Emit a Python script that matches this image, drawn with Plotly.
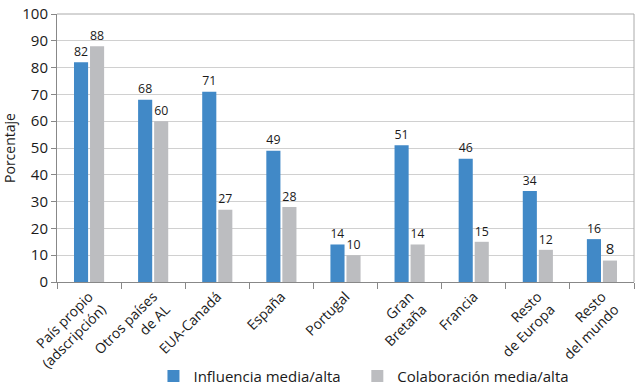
import plotly.graph_objects as go

categories = ["País propio<br>(adscripción)", "Otros países<br>de AL", "EUA-Canadá", "España",
              "Portugal", "Gran<br>Bretaña", "Francia", "Resto<br>de Europa", "Resto<br>del mundo"]
influencia = [82, 68, 71, 49, 14, 51, 46, 34, 16]
colaboracion = [88, 60, 27, 28, 10, 14, 15, 12, 8]
y_ticks = [0, 10, 20, 30, 40, 50, 60, 70, 80, 90, 100]

font = "Open Sans, Lato, sans-serif"

fig = go.Figure()
fig.add_trace(go.Bar(x=categories, y=influencia, name="Influencia media/alta\u00a0\u00a0\u00a0",
                     marker=dict(color="#4189c7", line=dict(width=0)),
                     text=influencia, textposition="outside", cliponaxis=False,
                     textfont=dict(size=15, color="#1a1a1a")))
fig.add_trace(go.Bar(x=categories, y=colaboracion, name="Colaboración media/alta",
                     marker=dict(color="#bcbdc0", line=dict(width=0)),
                     text=colaboracion, textposition="outside", cliponaxis=False,
                     textfont=dict(size=15, color="#1a1a1a")))

fig.update_layout(
    width=640, height=386,
    margin=dict(l=57, r=6, t=14, b=104, autoexpand=False),
    paper_bgcolor="white", plot_bgcolor="white",
    font=dict(family=font, size=14, color="#1a1a1a"),
    barmode="group", bargap=0.5, bargroupgap=0.12,
    legend=dict(orientation="h", x=0.532, xanchor="center", yref="container",
                y=0.068, yanchor="top",
                font=dict(size=15), itemwidth=30, traceorder="normal"),
    showlegend=True,
)
fig.update_xaxes(tickangle=-45, showline=True, linecolor="#888", linewidth=1,
                 ticks="outside", tickson="boundaries", ticklen=6, tickcolor="#888",
                 mirror=False, tickfont=dict(size=14), automargin=False)
fig.update_yaxes(range=[0, 100], tickvals=y_ticks, showline=True, linecolor="#888",
                 linewidth=1, ticks="outside", ticklen=5, tickcolor="#888",
                 gridcolor="#d0d0d0", gridwidth=1, zeroline=False, automargin=False,
                 title=dict(text="Porcentaje", standoff=8, font=dict(size=14)),
                 tickfont=dict(size=15))
# top and right borders
fig.add_shape(type="line", xref="paper", yref="paper", x0=0, x1=1, y0=1, y1=1,
              line=dict(color="#aaa", width=1))
fig.add_shape(type="line", xref="paper", yref="paper", x0=1, x1=1, y0=0, y1=1,
              line=dict(color="#aaa", width=1))

fig.write_html("out.html", config={"displayModeBar": False},
               post_script="document.body.style.margin='0';document.body.style.overflow='hidden';")
